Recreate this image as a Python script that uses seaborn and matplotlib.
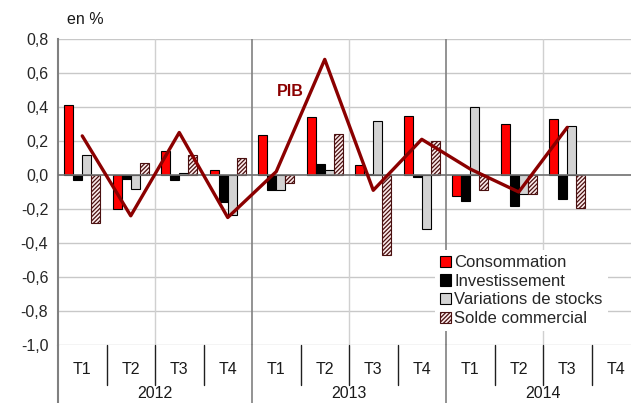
import numpy as np
import pandas as pd
import matplotlib
matplotlib.use("Agg")
import matplotlib.pyplot as plt
import seaborn as sns
from matplotlib.transforms import blended_transform_factory

# Data (contributions a la croissance du PIB, en points)
years = ["2012", "2013", "2014"]
quarters = ["T1", "T2", "T3", "T4"]
series = ["Consommation", "Investissement", "Variations de stocks", "Solde commercial"]

consommation = [0.41, -0.20, 0.14, 0.03, 0.235, 0.34, 0.06, 0.35, -0.125, 0.30, 0.33, np.nan]
investissement = [-0.03, -0.025, -0.03, -0.16, -0.09, 0.065, 0.005, -0.01, -0.155, -0.18, -0.14, np.nan]
stocks = [0.12, -0.08, 0.01, -0.235, -0.09, 0.03, 0.32, -0.32, 0.40, -0.11, 0.29, np.nan]
solde = [-0.28, 0.07, 0.12, 0.10, -0.045, 0.24, -0.47, 0.20, -0.09, -0.11, -0.195, np.nan]
pib = [0.23, -0.24, 0.25, -0.25, 0.02, 0.68, -0.09, 0.21, 0.035, -0.10, 0.28, np.nan]

periods = [f"{y} {q}" for y in years for q in quarters]

rows = []
for name, vals in zip(series, [consommation, investissement, stocks, solde]):
    for p, v in zip(periods, vals):
        rows.append({"periode": p, "composante": name, "valeur": v})
df = pd.DataFrame(rows)

sns.set_theme(style="white")
plt.rcParams["font.family"] = ["Liberation Sans", "DejaVu Sans"]
plt.rcParams["hatch.linewidth"] = 0.9
plt.rcParams["hatch.color"] = "#A52A2A"

fig = plt.figure(figsize=(6.31, 4.03), dpi=100)
W, H = 631, 403
ax = fig.add_axes([58 / W, (H - 345) / H, (640 - 58) / W, 306 / H])

palette = ["#FF0000", "#000000", "#D3D3D3", "#FBEAEA"]
sns.barplot(data=df, x="periode", y="valeur", hue="composante", order=periods,
            hue_order=series, palette=palette, width=0.745, edgecolor="black",
            linewidth=0.8, saturation=1, ax=ax, legend=False)

# hatch for solde commercial
for bar in ax.containers[3]:
    bar.set_hatch("////////")
    bar.set_edgecolor("#4A1010")

sns.lineplot(x=np.arange(len(periods)), y=pib, color="#8B0000", linewidth=2.4,
             ax=ax, zorder=5)

ax.set_ylim(-1.0, 0.8)
ax.set_xlim(-0.5, 11.5)
yt = np.round(np.arange(-1.0, 0.81, 0.2), 1)
ax.set_yticks(yt)
ax.set_yticklabels([f"{abs(v) if v == 0 else v:.1f}".replace(".", ",") for v in yt],
                   fontsize=11.5)
ax.tick_params(axis="y", length=4, width=1, color="#808080", direction="out", pad=3)
ax.set_xticks([])
ax.set_xlabel("")
ax.set_ylabel("")

for s in ["top", "right", "bottom"]:
    ax.spines[s].set_visible(False)
ax.spines["left"].set_color("#808080")
ax.spines["left"].set_linewidth(1.5)

for v in yt:
    if v != 0:
        ax.axhline(v, color="#C8C8C8", lw=1, zorder=0)
ax.axhline(0, color="#707070", lw=1.2, zorder=3)
for xv in [1.5, 5.5, 9.5]:
    ax.axvline(xv, color="#D0D0D0", lw=1, zorder=0)
for xv in [3.5, 7.5]:
    ax.axvline(xv, color="#808080", lw=1.2, zorder=0)

# categorical axis below the plot
tr = blended_transform_factory(ax.transData, ax.transAxes)
for i in range(len(periods)):
    ax.text(i, -25 / 306, quarters[i % 4], transform=tr, ha="center", va="center",
            fontsize=11.5, color="#1a1a1a")
    if i % 4 != 0:
        ax.plot([i - 0.5, i - 0.5], [0, -40 / 306], transform=tr, color="#202020",
                lw=1, clip_on=False)
for k, y in enumerate(years):
    ax.text(4 * k + 1.5, -48 / 306, y, transform=tr, ha="center", va="center",
            fontsize=11.5, color="#1a1a1a")
for xv in [-0.5, 3.5, 7.5]:
    ax.plot([xv, xv], [0, -60 / 306], transform=tr, color="#808080",
            lw=1.5 if xv < 0 else 1.2, clip_on=False)

ax.text(4.28, 0.49, "PIB", color="#8B0000", fontsize=11.5, fontweight="bold",
        ha="center", va="center")
fig.text(85 / W, 1 - 20 / H, "en %", fontsize=11.5, ha="center", va="center",
         color="#1a1a1a")

handles = [ax.containers[i][0] for i in range(4)]
leg = ax.legend(handles, series, loc="upper left", bbox_to_anchor=(0.648, 0.31),
                frameon=True, fontsize=12, handlelength=0.65, handleheight=0.65,
                handletextpad=0.2, labelspacing=0.22, borderpad=0.3,
                borderaxespad=0)
leg.get_frame().set_facecolor("white")
leg.get_frame().set_edgecolor("none")
leg.get_frame().set_alpha(1)
leg.set_zorder(10)

fig.savefig("out.png", dpi=100)
